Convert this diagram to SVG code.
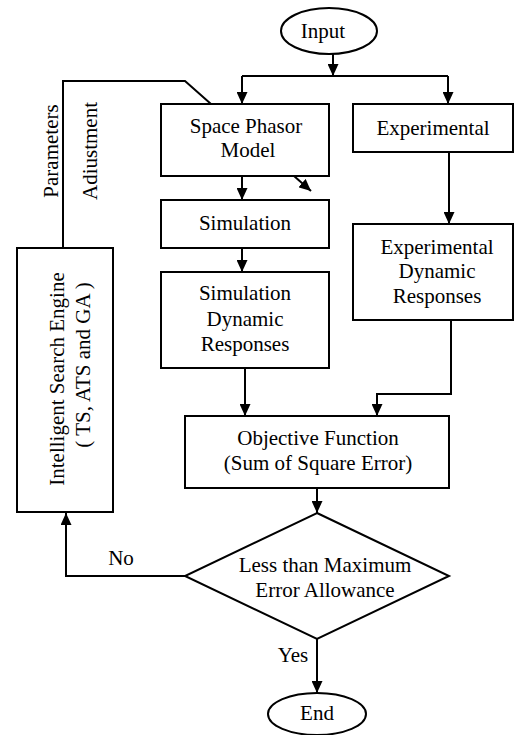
<svg xmlns="http://www.w3.org/2000/svg" width="515" height="735" viewBox="0 0 515 735">
<defs>
<marker id="ah" markerUnits="userSpaceOnUse" markerWidth="12" markerHeight="11" refX="12" refY="5.5" orient="auto">
<path d="M0,0 L12,5.5 L0,11 z" fill="#000"/>
</marker>
<style>
.b{fill:#fff;stroke:#000;stroke-width:2}
.t{font-family:"Liberation Serif","Times New Roman",serif;font-size:21px;fill:#000;text-anchor:middle}
.c{fill:none;stroke:#000;stroke-width:2}
.a{fill:none;stroke:#000;stroke-width:2;marker-end:url(#ah)}
</style>
</defs>
<rect width="515" height="735" fill="#fff"/>
<g id="connectors">
<line class="a" x1="333" y1="54" x2="333" y2="76"/>
<polyline class="c" points="242,76 448,76"/>
<line class="a" x1="242" y1="76" x2="242" y2="104"/>
<line class="a" x1="448" y1="76" x2="448" y2="104"/>
<line class="a" x1="242" y1="176" x2="242" y2="200"/>
<line class="a" x1="294" y1="176" x2="311" y2="191"/>
<line class="a" x1="242" y1="248" x2="242" y2="272"/>
<line class="a" x1="245" y1="368" x2="245" y2="416"/>
<line class="a" x1="449" y1="152" x2="449" y2="224"/>
<polyline class="a" points="451,320 451,394 377,394 377,416"/>
<line class="a" x1="317" y1="488" x2="317" y2="513"/>
<polyline class="a" points="185,576 66,576 66,513"/>
<line class="a" x1="317" y1="639" x2="317" y2="693"/>
<polyline class="c" points="63,248 63,81 185,81 211,104"/>
<text class="t" x="121" y="565">No</text>
<text class="t" x="293" y="662">Yes</text>
<text class="t" transform="translate(58,151) rotate(-90)">Parameters</text>
<text class="t" transform="translate(97,151) rotate(-90)">Adiustment</text>
</g>
<g id="input">
<ellipse class="b" cx="329" cy="31" rx="48" ry="23"/>
<text class="t" x="323" y="38">Input</text>
</g>
<g id="space-phasor">
<rect class="b" x="161" y="104" width="168" height="72"/>
<text class="t" x="246" y="133">Space Phasor</text>
<text class="t" x="248" y="157">Model</text>
</g>
<g id="experimental">
<rect class="b" x="353" y="104" width="160" height="48"/>
<text class="t" x="433" y="135">Experimental</text>
</g>
<g id="simulation">
<rect class="b" x="161" y="200" width="168" height="48"/>
<text class="t" x="245" y="230">Simulation</text>
</g>
<g id="sim-dyn">
<rect class="b" x="161" y="272" width="168" height="96"/>
<text class="t" x="245" y="300">Simulation</text>
<text class="t" x="245" y="326">Dynamic</text>
<text class="t" x="245" y="351">Responses</text>
</g>
<g id="exp-dyn">
<rect class="b" x="353" y="224" width="160" height="96"/>
<text class="t" x="437" y="254">Experimental</text>
<text class="t" x="437" y="278">Dynamic</text>
<text class="t" x="437" y="303">Responses</text>
</g>
<g id="objective">
<rect class="b" x="185" y="416" width="264" height="72"/>
<text class="t" x="318" y="445">Objective Function</text>
<text class="t" x="318" y="470">(Sum of Square Error)</text>
</g>
<g id="decision">
<polygon class="b" points="317,513 449,576 317,639 185,576"/>
<text class="t" x="325" y="572">Less than Maximum</text>
<text class="t" x="325" y="597">Error Allowance</text>
</g>
<g id="search-engine">
<rect class="b" x="17" y="248" width="96" height="264"/>
<text class="t" transform="translate(64,379) rotate(-90)">Intelligent Search Engine</text>
<text class="t" transform="translate(90,365) rotate(-90)">( TS, ATS and GA )</text>
</g>
<g id="end">
<ellipse class="b" cx="317" cy="714" rx="49" ry="21"/>
<text class="t" x="317" y="720">End</text>
</g>
</svg>
